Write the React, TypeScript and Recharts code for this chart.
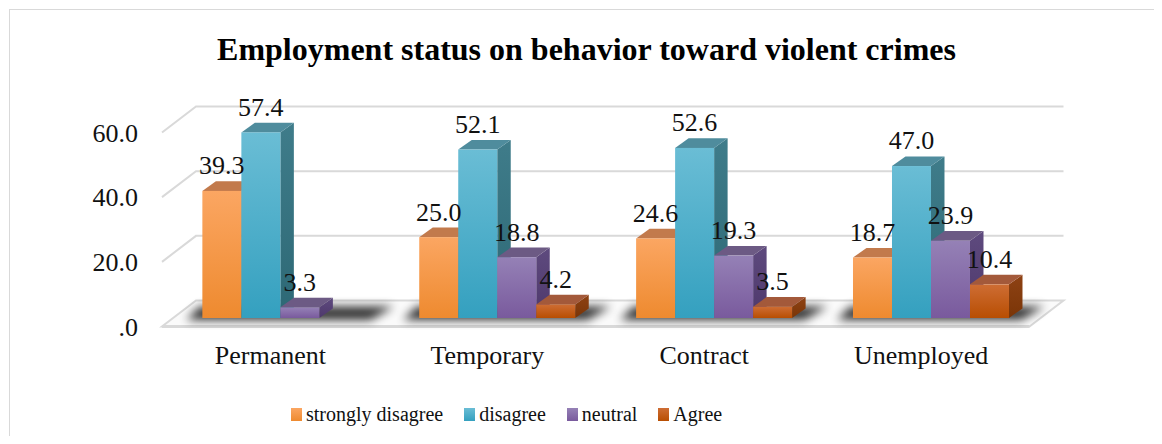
import React from 'react';
import { BarChart, Bar, XAxis, YAxis, CartesianGrid, LabelList, Legend } from 'recharts';

const categories = ['Permanent', 'Temporary', 'Contract', 'Unemployed'];
const stronglyDisagree = [39.3, 25.0, 24.6, 18.7];
const disagree = [57.4, 52.1, 52.6, 47.0];
const neutral = [3.3, 18.8, 19.3, 23.9];
const agree: (number | null)[] = [null, 4.2, 3.5, 10.4];
const yTicks = [0, 20, 40, 60];
const seriesNames = ['strongly disagree', 'disagree', 'neutral', 'Agree'];
const seriesKeys = ['sd', 'd', 'n', 'a'];

const data = categories.map((c, i) => ({
  name: c,
  sd: stronglyDisagree[i],
  d: disagree[i],
  n: neutral[i],
  a: agree[i],
}));

const STYLE = [
  { ft: '#FBA662', fb: '#EE8A2F', top: '#C27A4C', st: '#B96424', sb: '#A5520F' },
  { ft: '#6ABDD5', fb: '#34A0BF', top: '#4F8C9D', st: '#3F7C8A', sb: '#2D6875' },
  { ft: '#9581B6', fb: '#795A9D', top: '#6C5A84', st: '#5E4A7E', sb: '#4E386C' },
  { ft: '#CE6D34', fb: '#B84E02', top: '#A3593A', st: '#8E4214', sb: '#7A3507' },
];

const FONT = '"Liberation Serif", "Times New Roman", serif';
const SX = 10;
const SY = -8.5;
const DXB = 13.5;
const DYB = 9.6;
const WDX = 34;
const WDY = 26;

const CHART_W = 1154;
const CHART_H = 428;
const MARGIN = { top: 124.5, right: 132.5, bottom: 49.5, left: 0 };
const PLOT_BOTTOM = CHART_H - MARGIN.bottom - 60;

function Defs() {
  return (
    <defs>
      {STYLE.map((s, i) => (
        <linearGradient key={'f' + i} id={'front' + i} x1="0" y1="0" x2="0" y2="1">
          <stop offset="0%" stopColor={s.ft} />
          <stop offset="100%" stopColor={s.fb} />
        </linearGradient>
      ))}
      {STYLE.map((s, i) => (
        <linearGradient key={'s' + i} id={'side' + i} x1="0" y1="0" x2="0" y2="1">
          <stop offset="0%" stopColor={s.st} />
          <stop offset="100%" stopColor={s.sb} />
        </linearGradient>
      ))}
      <filter id="shadowBlur" x="-50%" y="-200%" width="200%" height="500%">
        <feGaussianBlur stdDeviation="5" />
      </filter>
    </defs>
  );
}

function makeShape(si: number) {
  return (p: any) => {
    const v = p.payload ? p.payload[seriesKeys[si]] : null;
    if (v == null) return <g />;
    const x = p.x + SX;
    const w = p.width;
    const yT = p.y + SY;
    const yB = p.y + p.height + SY;
    const pts = (arr: number[][]) => arr.map((a) => a.join(',')).join(' ');
    let shadow = null;
    if (si === 0) {
      const gw = w * 4;
      shadow = (
        <polygon
          points={pts([
            [x - 16, yB + 2],
            [x + gw + 12, yB + 2],
            [x + gw + DXB + 22, yB - DYB - 2],
            [x - 16 + DXB, yB - DYB - 2],
          ])}
          fill="#000"
          opacity={0.8}
          filter="url(#shadowBlur)"
        />
      );
    }
    return (
      <g>
        <Defs />
        {shadow}
        <polygon
          points={pts([[x + w, yT], [x + w + DXB, yT - DYB], [x + w + DXB, yB - DYB], [x + w, yB]])}
          fill={`url(#side${si})`}
        />
        <polygon
          points={pts([[x, yT], [x + w, yT], [x + w + DXB, yT - DYB], [x + DXB, yT - DYB]])}
          fill={STYLE[si].top}
        />
        <rect x={x} y={yT} width={w} height={Math.max(0, yB - yT)} fill={`url(#front${si})`} />
      </g>
    );
  };
}

function labelContent(p: any) {
  const { x, y, width, value } = p;
  if (value == null || x == null) return null;
  return (
    <text
      x={Number(x) + Number(width) / 2 + SX}
      y={Number(y) + SY - DYB - 7}
      textAnchor="middle"
      fontSize={26}
      fontFamily={FONT}
      fill="#111"
    >
      {Number(value).toFixed(1)}
    </text>
  );
}

function gridLine(p: any) {
  const { x1, x2, y1 } = p;
  const y = Number(y1);
  if (Math.abs(y - PLOT_BOTTOM) < 1.5) {
    return (
      <g key={p.key}>
        <polygon
          points={`${x1},${y} ${x2},${y} ${x2 + WDX},${y - WDY} ${x1 + WDX},${y - WDY}`}
          fill="#fafafa"
          stroke="#d9d9d9"
          strokeWidth={2}
        />
        <line x1={x1} y1={y} x2={x2} y2={y} stroke="#d9d9d9" strokeWidth={3} />
      </g>
    );
  }
  return (
    <polyline
      key={p.key}
      points={`${x1},${y} ${x1 + WDX},${y - WDY} ${x2 + WDX},${y - WDY}`}
      fill="none"
      stroke="#d9d9d9"
      strokeWidth={2}
    />
  );
}

function LegendContent() {
  return (
    <div style={{ display: 'flex', alignItems: 'center', paddingLeft: 283, fontFamily: FONT, fontSize: 20, color: '#111' }}>
      {seriesNames.map((n, i) => (
        <div key={n} style={{ display: 'flex', alignItems: 'center', marginRight: 21 }}>
          <div
            style={{
              width: 11,
              height: 13,
              marginRight: 4,
              background: `linear-gradient(${STYLE[i].ft}, ${STYLE[i].fb})`,
            }}
          />
          <span style={{ lineHeight: '24px' }}>{n}</span>
        </div>
      ))}
    </div>
  );
}

export default function App() {
  return (
    <div style={{ position: 'relative', width: CHART_W, height: CHART_H }}>
      <div
        style={{
          position: 'absolute',
          left: 268,
          top: -35,
          fontFamily: FONT,
          fontWeight: 'bold',
          fontSize: 27,
          lineHeight: '27px',
          whiteSpace: 'nowrap',
          color: '#000',
        }}
      >
        Employment status
      </div>
      <div style={{ position: 'absolute', left: 0, top: 0, width: CHART_W, height: CHART_H, overflow: 'hidden' }}>
        <div
          style={{
            position: 'absolute',
            left: 1,
            top: 1,
            width: 1151,
            height: 480,
            border: '1px solid #d9d9d9',
            boxSizing: 'border-box',
          }}
        />
        <div
          style={{
            position: 'absolute',
            left: 0,
            top: 25,
            width: 1157,
            textAlign: 'center',
            fontFamily: FONT,
            fontWeight: 'bold',
            fontSize: 32,
            lineHeight: '32px',
            color: '#000',
            whiteSpace: 'nowrap',
          }}
        >
          Employment status on behavior toward violent crimes
        </div>
        <div style={{ position: 'absolute', left: 0, top: 0 }}>
          <BarChart
            width={CHART_W}
            height={CHART_H}
            data={data}
            margin={MARGIN}
            barCategoryGap="14%"
            barGap={0}
          >
            <CartesianGrid vertical={false} horizontal={gridLine as any} />
            <XAxis
              dataKey="name"
              height={60}
              axisLine={false}
              tickLine={false}
              tickSize={0}
              tickMargin={19}
              interval={0}
              tick={{ fontSize: 26, fontFamily: FONT, fill: '#111' }}
            />
            <YAxis
              width={154}
              domain={[0, 60]}
              ticks={yTicks}
              axisLine={false}
              tickLine={false}
              tickSize={0}
              tickMargin={24}
              tickFormatter={(v: number) => (v === 0 ? '.0' : v.toFixed(1))}
              tick={{ fontSize: 26, fontFamily: FONT, fill: '#111' }}
            />
            <Legend
              layout="horizontal"
              verticalAlign="middle"
              align="center"
              wrapperStyle={{ top: 394, left: 0, width: CHART_W }}
              content={LegendContent as any}
            />
            {seriesKeys.map((k, i) => (
              <Bar key={k} dataKey={k} name={seriesNames[i]} isAnimationActive={false} shape={makeShape(i) as any}>
                <LabelList dataKey={k} content={labelContent as any} />
              </Bar>
            ))}
          </BarChart>
        </div>
      </div>
    </div>
  );
}
